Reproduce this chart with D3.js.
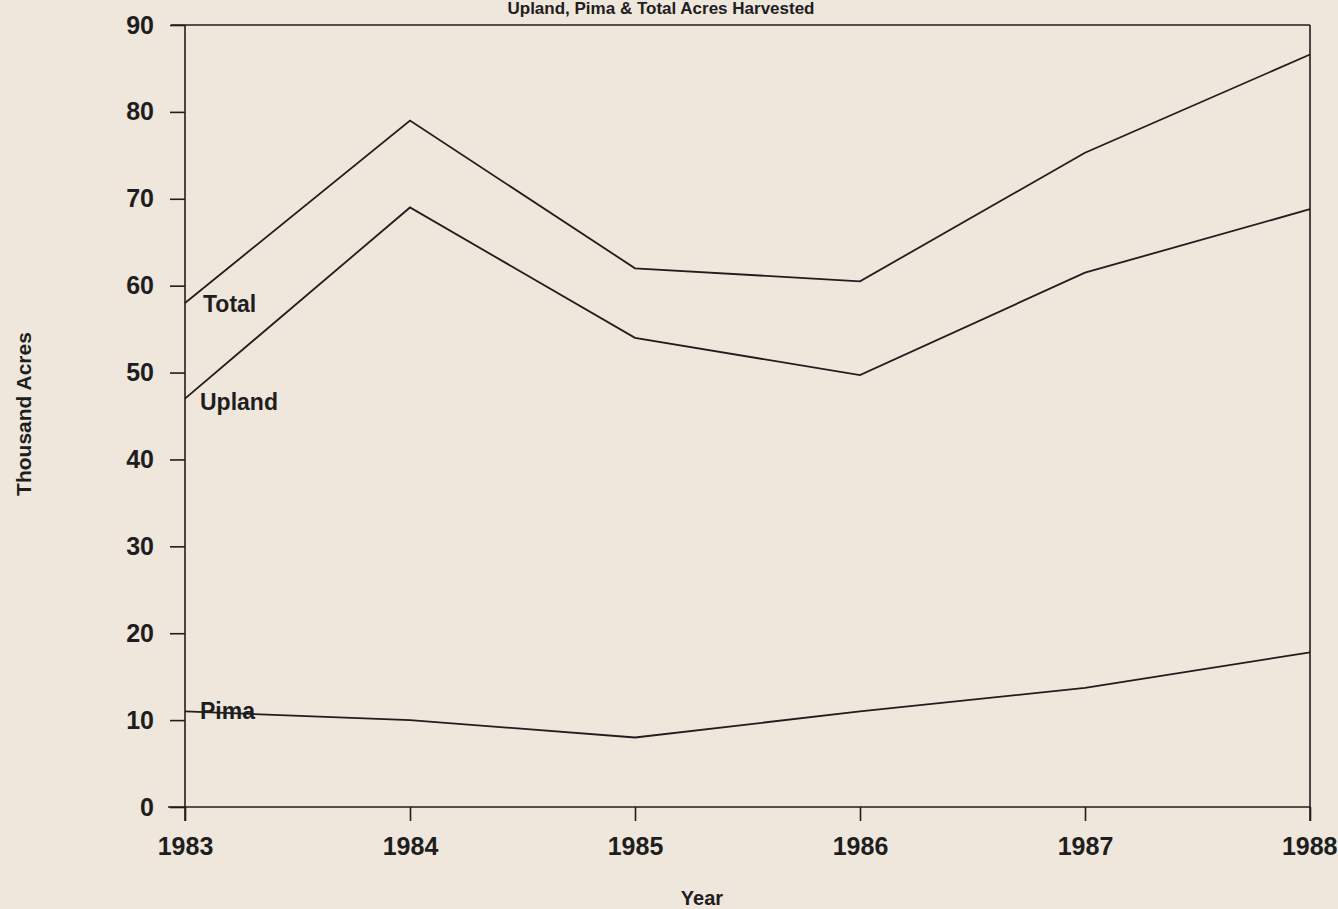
<!DOCTYPE html>
<html>
<head>
<meta charset="utf-8">
<script src="https://cdn.jsdelivr.net/npm/d3@7"></script>
<style>
  html, body { margin: 0; padding: 0; background: #efe6dc; }
  svg { display: block; }
  text { font-family: "Liberation Sans", Arial, sans-serif; fill: #1e1e1e; }
</style>
</head>
<body>
<div id="chart"></div>
<script>
// Data (thousand acres)
const years = [1983, 1984, 1985, 1986, 1987, 1988];
const total = [58, 79, 62, 60.5, 75.3, 86.6];
const upland = [47, 69, 54, 49.7, 61.5, 68.8];
const pima = [11, 10, 8, 11, 13.7, 17.8];
const yTicks = [0, 10, 20, 30, 40, 50, 60, 70, 80, 90];

const width = 1338, height = 909;
const ink = '#1e1e1e';

const svg = d3.select('#chart').append('svg')
    .attr('width', width)
    .attr('height', height);

svg.append('rect')
    .attr('width', width)
    .attr('height', height)
    .attr('fill', '#efe6dc');

const x = d3.scaleLinear().domain([1983, 1988]).range([185, 1310]);
const y = d3.scaleLinear().domain([0, 90]).range([807, 25]);

// Title at the very top of the page
svg.append('text')
    .attr('x', 661).attr('y', 14)
    .attr('text-anchor', 'middle')
    .attr('font-size', 17)
    .attr('font-weight', 'bold')
    .text('Upland, Pima & Total Acres Harvested');

// Frame: top and right lines
svg.append('line')
    .attr('x1', 171).attr('x2', x(1988))
    .attr('y1', y(90)).attr('y2', y(90))
    .attr('stroke', ink).attr('stroke-width', 1.6);
svg.append('line')
    .attr('x1', x(1988)).attr('x2', x(1988))
    .attr('y1', y(90)).attr('y2', y(0) + 14)
    .attr('stroke', ink).attr('stroke-width', 1.6);

// Y axis
const yAxis = svg.append('g')
    .attr('transform', `translate(${x(1983)},0)`)
    .call(d3.axisLeft(y).tickValues(yTicks).tickSize(15).tickSizeOuter(0).tickPadding(16));
yAxis.select('.domain').remove();
yAxis.append('line')
    .attr('y1', y(90)).attr('y2', y(0) + 14)
    .attr('stroke', ink).attr('stroke-width', 1.6);
yAxis.selectAll('.tick line').attr('stroke', ink).attr('stroke-width', 1.6);
yAxis.selectAll('.tick text')
    .attr('font-size', 25).attr('font-weight', 'bold')
    .attr('fill', ink)
    .style('font-family', '"Liberation Sans", Arial, sans-serif');

// X axis
const xAxis = svg.append('g')
    .attr('transform', `translate(0,${y(0)})`)
    .call(d3.axisBottom(x).tickValues(years).tickFormat(d3.format('d'))
        .tickSize(14).tickSizeOuter(0).tickPadding(16));
xAxis.select('.domain').remove();
xAxis.append('line')
    .attr('x1', 168).attr('x2', x(1988))
    .attr('stroke', ink).attr('stroke-width', 1.6);
xAxis.selectAll('.tick line').attr('stroke', ink).attr('stroke-width', 1.6);
xAxis.selectAll('.tick text')
    .attr('font-size', 25).attr('font-weight', 'bold')
    .attr('fill', ink)
    .style('font-family', '"Liberation Sans", Arial, sans-serif');
// keep the last year label inside the page
xAxis.selectAll('.tick text').filter(d => d === 1988).attr('text-anchor', 'end').attr('x', 27);

// Axis titles
svg.append('text')
    .attr('transform', 'translate(31,414) rotate(-90)')
    .attr('text-anchor', 'middle')
    .attr('font-size', 21).attr('font-weight', 'bold')
    .text('Thousand Acres');
svg.append('text')
    .attr('x', 702).attr('y', 905)
    .attr('text-anchor', 'middle')
    .attr('font-size', 20).attr('font-weight', 'bold')
    .text('Year');

// Series lines
const line = d3.line()
    .x((d, i) => x(years[i]))
    .y(d => y(d));

const series = [
    { name: 'Total', values: total, dy: 9 },
    { name: 'Upland', values: upland, dy: 11 },
    { name: 'Pima', values: pima, dy: 8 }
];

svg.append('g')
    .selectAll('path')
    .data(series)
    .enter()
    .append('path')
    .attr('d', d => line(d.values))
    .attr('fill', 'none')
    .attr('stroke', ink)
    .attr('stroke-width', 1.8);

// Series labels near the 1983 end
svg.append('g')
    .selectAll('text')
    .data(series)
    .enter()
    .append('text')
    .attr('x', d => d.name === 'Total' ? 203 : 200)
    .attr('y', d => y(d.values[0]) + d.dy)
    .attr('font-size', 23)
    .attr('font-weight', 'bold')
    .text(d => d.name);
</script>
</body>
</html>
